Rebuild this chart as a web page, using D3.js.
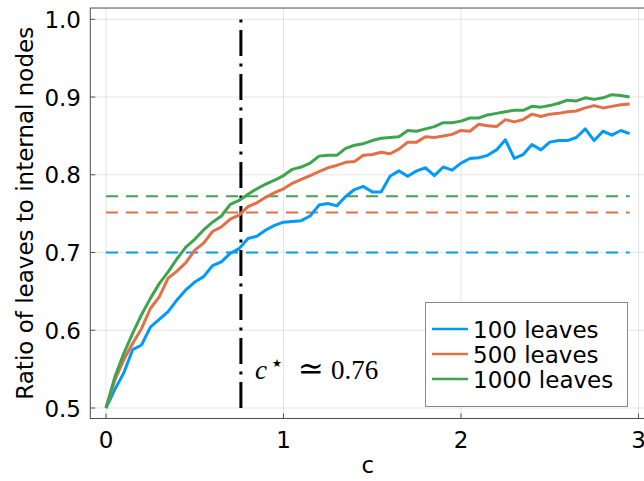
<!DOCTYPE html>
<html>
<head>
<meta charset="utf-8">
<script src="https://cdn.jsdelivr.net/npm/d3@7"></script>
<style>
  body { margin: 0; background: #fff; }
  text { font-family: 'DejaVu Sans', sans-serif; }
</style>
</head>
<body>
<svg id="chart" width="644" height="481"></svg>
<script>
// data: c from 0 to 2.95 in steps of 0.05
var cValues = d3.range(60).map(function(i) { return i * 0.05; });

var leaves100 = [0.500, 0.524, 0.545, 0.575, 0.581, 0.604, 0.614, 0.624, 0.639, 0.652,
                 0.662, 0.669, 0.683, 0.688, 0.699, 0.705, 0.718, 0.721, 0.729, 0.735,
                 0.739, 0.740, 0.741, 0.747, 0.761, 0.763, 0.760, 0.772, 0.781, 0.785,
                 0.778, 0.778, 0.798, 0.805, 0.798, 0.805, 0.809, 0.799, 0.810, 0.806,
                 0.815, 0.821, 0.822, 0.825, 0.832, 0.845, 0.821, 0.826, 0.839, 0.832,
                 0.842, 0.844, 0.844, 0.848, 0.859, 0.844, 0.856, 0.851, 0.857, 0.853];

var leaves500 = [0.500, 0.536, 0.562, 0.583, 0.602, 0.628, 0.643, 0.667, 0.676, 0.687,
                 0.703, 0.712, 0.727, 0.733, 0.743, 0.748, 0.759, 0.764, 0.771, 0.777,
                 0.782, 0.789, 0.794, 0.799, 0.804, 0.809, 0.812, 0.816, 0.817, 0.825,
                 0.826, 0.829, 0.827, 0.833, 0.842, 0.842, 0.849, 0.848, 0.850, 0.852,
                 0.857, 0.856, 0.865, 0.863, 0.862, 0.871, 0.868, 0.871, 0.878, 0.875,
                 0.878, 0.879, 0.881, 0.882, 0.886, 0.889, 0.886, 0.888, 0.890, 0.891];

var leaves1000 = [0.500, 0.540, 0.570, 0.596, 0.620, 0.641, 0.660, 0.675, 0.692, 0.707,
                  0.717, 0.729, 0.739, 0.747, 0.762, 0.767, 0.775, 0.782, 0.788, 0.793,
                  0.799, 0.807, 0.810, 0.815, 0.824, 0.825, 0.825, 0.834, 0.838, 0.840,
                  0.844, 0.847, 0.848, 0.849, 0.857, 0.856, 0.859, 0.862, 0.867, 0.867,
                  0.869, 0.873, 0.873, 0.877, 0.879, 0.881, 0.883, 0.883, 0.888, 0.887,
                  0.889, 0.892, 0.896, 0.895, 0.899, 0.897, 0.899, 0.903, 0.902, 0.900];

var seriesNames = ['100 leaves', '500 leaves', '1000 leaves'];
var seriesColors = ['#009AFA', '#E36F47', '#3EA44E'];
// asymptotic ratio for each series (dashed lines)
var limitValues = [0.700, 0.7515, 0.7725];
var cStar = 0.76;

var xTicks = [0, 1, 2, 3];
var yTicks = [0.5, 0.6, 0.7, 0.8, 0.9, 1.0];

var svg = d3.select('#chart');

var x = d3.scaleLinear().domain([0, 3]).range([106, 638.5]),
    y = d3.scaleLinear().domain([0.5, 1.0]).range([408, 19.3]);

var xMin = -0.0885, xMax = 3.0385,
    yMin = 0.4865, yMax = 1.0145;

// grid
svg.append('g').selectAll('line').data(xTicks).enter()
  .append('line')
    .attr('x1', x).attr('x2', x)
    .attr('y1', y(yMin)).attr('y2', y(yMax))
    .attr('stroke', 'rgba(0,0,0,0.1)')
    .attr('stroke-width', 1);
svg.append('g').selectAll('line').data(yTicks).enter()
  .append('line')
    .attr('x1', x(xMin)).attr('x2', x(xMax))
    .attr('y1', y).attr('y2', y)
    .attr('stroke', 'rgba(0,0,0,0.1)')
    .attr('stroke-width', 1);

// tick marks inside the frame
svg.append('g').selectAll('line').data(xTicks).enter()
  .append('line')
    .attr('x1', x).attr('x2', x)
    .attr('y1', y(yMin)).attr('y2', y(yMin) - 5)
    .attr('stroke', '#555');
svg.append('g').selectAll('line').data(yTicks).enter()
  .append('line')
    .attr('x1', x(xMin)).attr('x2', x(xMin) + 5)
    .attr('y1', y).attr('y2', y)
    .attr('stroke', '#555');

// frame
svg.append('rect')
    .attr('x', x(xMin)).attr('y', y(yMax))
    .attr('width', x(xMax) - x(xMin))
    .attr('height', y(yMin) - y(yMax))
    .attr('fill', 'none')
    .attr('stroke', '#4d4d4d')
    .attr('stroke-width', 1);

// tick labels
svg.append('g').selectAll('text').data(xTicks).enter()
  .append('text')
    .attr('x', x)
    .attr('y', 448)
    .attr('text-anchor', 'middle')
    .attr('font-size', 23)
    .text(function(d) { return d; });
svg.append('g').selectAll('text').data(yTicks).enter()
  .append('text')
    .attr('x', 81)
    .attr('y', function(d) { return y(d) + 8.5; })
    .attr('text-anchor', 'end')
    .attr('font-size', 23)
    .text(function(d) { return d.toFixed(1); });

// axis labels
svg.append('text')
    .attr('x', x((xMin + xMax) / 2))
    .attr('y', 473)
    .attr('text-anchor', 'middle')
    .attr('font-size', 23)
    .text('c');
svg.append('text')
    .attr('transform', 'translate(33,' + y((yMin + yMax) / 2) + ') rotate(-90)')
    .attr('text-anchor', 'middle')
    .attr('font-size', 23)
    .text('Ratio of leaves to internal nodes');

// dashed limit lines
svg.append('g').selectAll('line').data(limitValues).enter()
  .append('line')
    .attr('x1', x(0)).attr('x2', x(2.95))
    .attr('y1', y).attr('y2', y)
    .attr('stroke', function(d, i) { return seriesColors[i]; })
    .attr('stroke-width', 2)
    .attr('stroke-dasharray', '12,8');

// c* vertical line, drawn bottom to top
svg.append('line')
    .attr('x1', x(cStar)).attr('x2', x(cStar))
    .attr('y1', y(0.5)).attr('y2', y(1.0))
    .attr('stroke', 'black')
    .attr('stroke-width', 3)
    .attr('stroke-dasharray', '26,7.5,3,7.5');

// series lines
var line = d3.line()
    .x(function(d, i) { return x(cValues[i]); })
    .y(function(d) { return y(d); });

svg.append('g').selectAll('path').data([leaves100, leaves500, leaves1000]).enter()
  .append('path')
    .attr('d', line)
    .attr('fill', 'none')
    .attr('stroke', function(d, i) { return seriesColors[i]; })
    .attr('stroke-width', 3)
    .attr('stroke-linejoin', 'round');

// annotation  c* ≃ 0.76 (serif, like the LaTeX label)
var annX = x(cStar), annY = y(0.5375);
var ann = svg.append('text')
    .attr('y', annY)
    .style('font-family', "'Liberation Serif', 'DejaVu Serif', serif")
    .attr('font-size', 27);
ann.append('tspan').attr('x', annX + 14).attr('font-style', 'italic').text('c');
ann.append('tspan')
    .style('font-family', "'DejaVu Sans', sans-serif")
    .attr('x', annX + 31).attr('y', annY - 12)
    .attr('font-size', 11).text('\u2605');
ann.append('tspan').attr('x', annX + 57).attr('y', annY)
    .attr('font-size', 31).text('\u2243');
ann.append('tspan').attr('x', annX + 90).text('0.76');

// legend
var legend = svg.append('g');
legend.append('rect')
    .attr('x', 425.5).attr('y', 302.5)
    .attr('width', 202).attr('height', 104)
    .attr('fill', 'white')
    .attr('stroke', '#8a8a8a')
    .attr('stroke-width', 1);
var rows = legend.selectAll('g').data(seriesNames).enter()
  .append('g')
    .attr('transform', function(d, i) { return 'translate(0,' + (329 + i * 25) + ')'; });
rows.append('line')
    .attr('x1', 432).attr('x2', 468)
    .attr('stroke', function(d, i) { return seriesColors[i]; })
    .attr('stroke-width', 2.5);
rows.append('text')
    .attr('x', 473)
    .attr('y', 8.5)
    .attr('font-size', 23)
    .text(function(d) { return d; });
</script>
</body>
</html>
